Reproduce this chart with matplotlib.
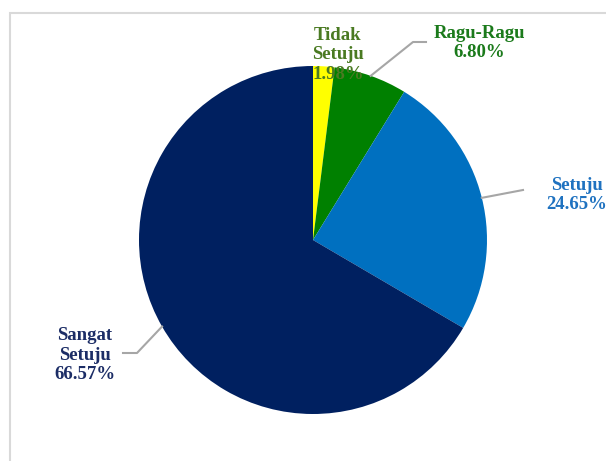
import numpy as np
import matplotlib
matplotlib.use("Agg")
import matplotlib.pyplot as plt
from matplotlib.patches import Rectangle

labels = ["Tidak\nSetuju", "Ragu-Ragu", "Setuju", "Sangat\nSetuju"]
values = [1.98, 6.80, 24.65, 66.57]
colors = ["#ffff00", "#008000", "#0070c0", "#002060"]
text_colors = ["#4a7a22", "#1b7a1b", "#1f72c0", "#1c2d66"]

# label anchor (pixel coords, y from top) and leader elbow
label_pos = [(338, 55), (479, 43), (577, 195), (85, 355)]
elbows = [None, (413, 42), (523, 190), (137, 353)]
leader_end = [None, (426, 42), None, (123, 353)]

W, H = 606, 461
fig = plt.figure(figsize=(W / 100, H / 100), dpi=100)
ax = fig.add_axes([0, 0, 1, 1])

# chart area border (only top and left visible)
ax.add_patch(Rectangle((10, -20), W + 40, H - 13 + 20, fill=False,
                       edgecolor="#d9d9d9", linewidth=1.5))

cx, cy, r = 313, H - 240, 174
wedges, _ = ax.pie(values, colors=colors, startangle=90, counterclock=False,
                   center=(cx, cy), radius=r, frame=True,
                   wedgeprops=dict(linewidth=0))
ax.set_xlim(0, W)
ax.set_ylim(0, H)
ax.set_aspect("equal")
ax.axis("off")

for i, w in enumerate(wedges):
    ang = np.deg2rad((w.theta1 + w.theta2) / 2)
    sx, sy = cx + r * np.cos(ang), cy + r * np.sin(ang)
    if elbows[i] is not None:
        ex, ey = elbows[i]
        xs = [sx, ex]
        ys = [sy, H - ey]
        if leader_end[i] is not None:
            xs.append(leader_end[i][0])
            ys.append(H - leader_end[i][1])
        ax.plot(xs, ys, color="#a6a6a6", linewidth=1.5, zorder=3)
    tx, ty = label_pos[i]
    ax.text(tx, H - ty, f"{labels[i]}\n{values[i]:.2f}%", ha="center", va="center",
            color=text_colors[i], fontsize=13.5, fontweight="bold",
            family="Liberation Serif", linespacing=1.2, zorder=4)

fig.savefig("out.png", dpi=100)
